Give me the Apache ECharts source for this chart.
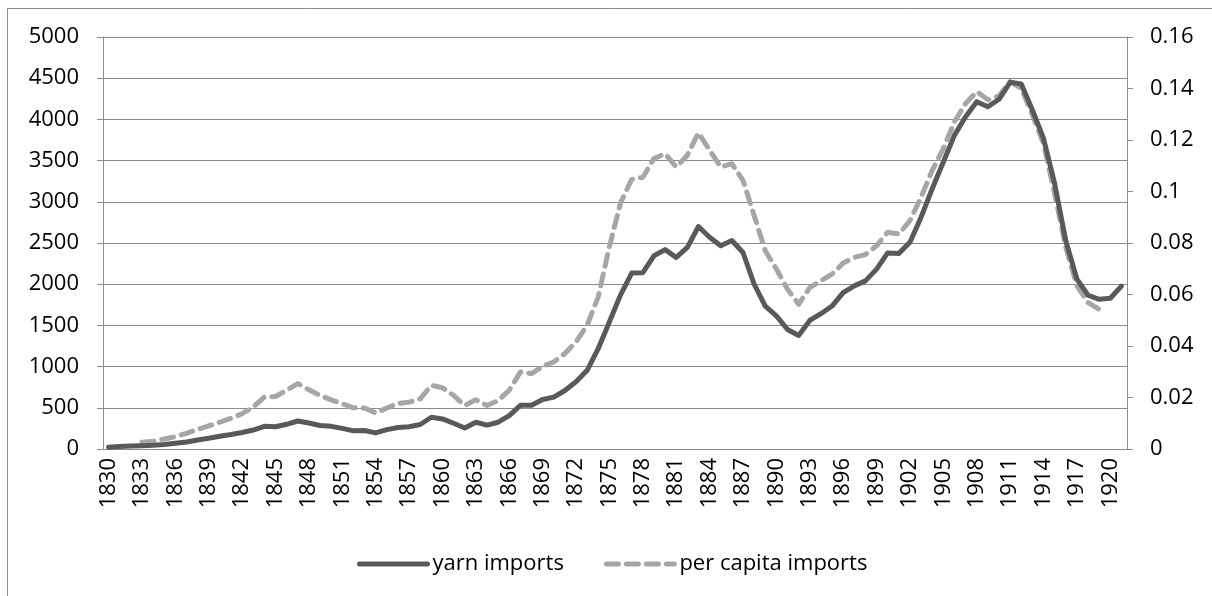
<!DOCTYPE html>
<html>
<head>
<meta charset="utf-8">
<script src="https://cdn.jsdelivr.net/npm/echarts@6/dist/echarts.min.js"></script>
<style>
  html, body { margin: 0; padding: 0; background: #fff; }
  #chart { width: 1212px; height: 596px; }
</style>
</head>
<body>
<div id="chart"></div>
<script>
// years 1830..1921
const years = []
for (let y = 1830; y <= 1921; y++) years.push(String(y))

// yarn imports (left axis)
const yarnImports = [
  20, 30, 35, 40, 45, 55, 70, 85, 110, 130,          // 1830-1839
  155, 175, 200, 230, 275, 270, 300, 340, 315, 285,  // 1840-1849
  275, 250, 220, 225, 195, 235, 260, 270, 297, 385,  // 1850-1859
  365, 313, 255, 325, 290, 325, 405, 530, 530, 600,  // 1860-1869
  630, 710, 815, 955, 1220, 1545, 1870, 2135, 2140, 2345,    // 1870-1879
  2420, 2325, 2447, 2700, 2570, 2467, 2530, 2385, 2000, 1735, // 1880-1889
  1615, 1450, 1378, 1560, 1642, 1735, 1898, 1980, 2040, 2183, // 1890-1899
  2380, 2374, 2508, 2813, 3158, 3484, 3809, 4032, 4215, 4154, // 1900-1909
  4244, 4450, 4430, 4114, 3768, 3220, 2528, 2061, 1866, 1817, // 1910-1919
  1829, 1976                                                   // 1920-1921
]

// per capita imports (right axis)
const perCapita = [
  null, null, null, 0.0026, 0.0030, 0.0039, 0.0048, 0.0061, 0.0076, 0.0090,      // 1830-1839
  0.0104, 0.0120, 0.0137, 0.0163, 0.0202, 0.0204, 0.0228, 0.0254, 0.0230, 0.0208, // 1840-1849
  0.0191, 0.0176, 0.0160, 0.0159, 0.0140, 0.0159, 0.0177, 0.0182, 0.0195, 0.0247, // 1850-1859
  0.0238, 0.0208, 0.0169, 0.0191, 0.0169, 0.0188, 0.0228, 0.0299, 0.0293, 0.0321, // 1860-1869
  0.0338, 0.0371, 0.0416, 0.0481, 0.0592, 0.0787, 0.0956, 0.1047, 0.1055, 0.1128, // 1870-1879
  0.1147, 0.1095, 0.1141, 0.1228, 0.1160, 0.1095, 0.1108, 0.1043, 0.0907, 0.0770, // 1880-1889
  0.0699, 0.0620, 0.0562, 0.0627, 0.0653, 0.0679, 0.0722, 0.0744, 0.0755, 0.0789, // 1890-1899
  0.0842, 0.0835, 0.0887, 0.0978, 0.1082, 0.1167, 0.1271, 0.1342, 0.1388, 0.1356, // 1900-1909
  0.1371, 0.1427, 0.1401, 0.1297, 0.1186, 0.0991, 0.0783, 0.0634, 0.0569, 0.0542, // 1910-1919
  null, null                                                                       // 1920-1921
]

const font = '"Open Sans", "Liberation Sans", sans-serif'
const axisGray = '#8c8c8c'

const chart = echarts.init(document.getElementById('chart'), null, { renderer: 'canvas' })

chart.setOption({
  animation: false,
  textStyle: { fontFamily: font, color: '#000' },
  grid: { left: 103, right: 85, top: 37, bottom: 147, containLabel: false },
  graphic: [
    {
      type: 'rect',
      shape: { x: 7.5, y: 8.5, width: 1400, height: 800 },
      style: { fill: 'none', stroke: '#8c8c8c', lineWidth: 1 },
      silent: true
    }
  ],
  legend: {
    bottom: 16,
    left: 352,
    itemWidth: 68,
    itemHeight: 10,
    itemGap: 40,
    itemStyle: { opacity: 0 },
    lineStyle: { width: 5, cap: 'round' },
    textStyle: { fontFamily: font, fontSize: 22, color: '#000' },
    data: ['yarn imports', 'per capita imports']
  },
  xAxis: {
    type: 'category',
    data: years,
    boundaryGap: true,
    axisLine: { lineStyle: { color: axisGray, width: 1 } },
    axisTick: { interval: 0, length: 6, lineStyle: { color: axisGray } },
    axisLabel: {
      interval: 2,
      rotate: 90,
      margin: 9,
      fontFamily: font,
      fontSize: 22,
      color: '#000'
    },
    splitLine: { show: false }
  },
  yAxis: [
    {
      type: 'value',
      min: 0,
      max: 5000,
      interval: 500,
      axisLine: { show: true, lineStyle: { color: axisGray } },
      axisTick: { show: true, length: 6, lineStyle: { color: axisGray } },
      axisLabel: {
        margin: 24,
        fontFamily: font,
        fontSize: 22,
        color: '#000',
        formatter: v => String(v)
      },
      splitLine: { lineStyle: { color: axisGray, width: 1 } }
    },
    {
      type: 'value',
      min: 0,
      max: 0.16,
      interval: 0.02,
      axisLine: { show: true, lineStyle: { color: axisGray } },
      axisTick: { show: true, length: 6, lineStyle: { color: axisGray } },
      axisLabel: {
        margin: 23,
        fontFamily: font,
        fontSize: 22,
        color: '#000',
        formatter: v => String(+v.toFixed(2))
      },
      splitLine: { show: false }
    }
  ],
  series: [
    {
      name: 'yarn imports',
      type: 'line',
      data: yarnImports,
      yAxisIndex: 0,
      symbol: 'none',
      itemStyle: { color: '#595959' },
      lineStyle: { color: '#595959', width: 5, join: 'round', cap: 'round' },
      z: 3
    },
    {
      name: 'per capita imports',
      type: 'line',
      data: perCapita,
      yAxisIndex: 1,
      symbol: 'none',
      itemStyle: { color: '#a6a6a6' },
      lineStyle: { color: '#a6a6a6', width: 5, type: [12, 8], cap: 'round', join: 'round' },
      z: 2
    }
  ]
})
</script>
</body>
</html>
